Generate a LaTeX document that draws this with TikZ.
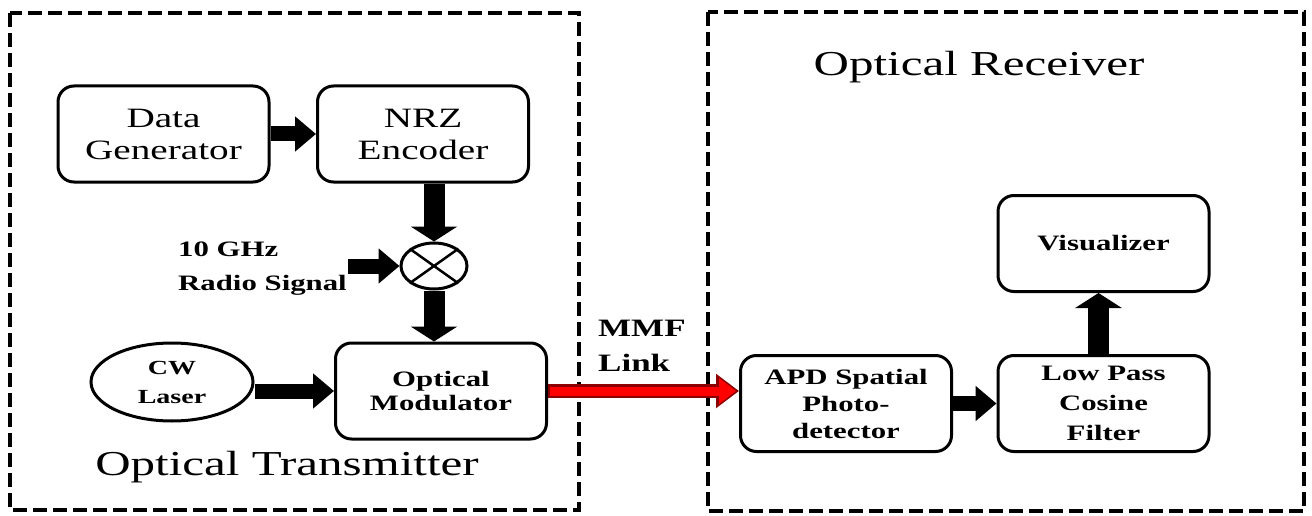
\documentclass[tikz,border=0pt]{standalone}
\usepackage{fontspec}
\setmainfont[FakeStretch=1.4]{Liberation Serif}
\usetikzlibrary{arrows.meta,shapes.geometric}
\tikzset{
  blk/.style={draw, line width=3pt, rounded corners=16pt, align=center, inner sep=0pt,
    minimum width=211pt, minimum height=96pt},
  regtxt/.style={font=\fontsize{28}{32}\selectfont},
  boldtxt/.style={font=\bfseries\fontsize{22}{27}\selectfont},
  group/.style={draw, line width=3.5pt, dash pattern=on 14pt off 6pt},
  harrow/.style={line width=15pt, -{Triangle[length=21pt,width=34pt]}},
  varrow/.style={line width=21pt, -{Triangle[length=15pt,width=46pt]}},
}
\begin{document}
\begin{tikzpicture}[x=1pt,y=-1pt]
\useasboundingbox (0,0) rectangle (1312,516);
% group boxes
\draw[group] (10,13) rectangle (579,510);
\draw[group] (708,12) rectangle (1304,511);
\node[regtxt, font=\fontsize{35}{40}\selectfont] (txlabel) at (287,467) {Optical Transmitter};
\node[regtxt, font=\fontsize{35}{40}\selectfont] (rxlabel) at (979,67) {Optical Receiver};
% transmitter
\node[blk, regtxt] (dg) at (163.5,134) {Data\\Generator};
\node[blk, regtxt] (nrz) at (423,134) {NRZ\\Encoder};
\node[draw, ellipse, line width=3pt, minimum width=66pt, minimum height=46pt, inner sep=0pt] (mix) at (434,266) {};
\draw[line width=2.5pt] (mix.north west) -- (mix.south east);
\draw[line width=2.5pt] (mix.north east) -- (mix.south west);
\node[blk, boldtxt, font=\bfseries\fontsize{22}{24}\selectfont] (mod) at (441,391) {Optical\\Modulator};
\node[draw, ellipse, line width=3pt, minimum width=162pt, minimum height=78pt, inner sep=0pt,
  boldtxt, font=\bfseries\fontsize{20}{29}\selectfont, align=center] (cw) at (172,382) {CW\\Laser};
\node[boldtxt, align=left, anchor=north west, inner sep=0pt, font=\bfseries\fontsize{22}{34}\selectfont] (radio) at (178,242) {10 GHz\\Radio Signal};
\coordinate (radioin) at (348,266);
\node[boldtxt, align=left, anchor=north west, inner sep=0pt, font=\bfseries\fontsize{25}{35}\selectfont] (mmf) at (598,320) {MMF\\Link};
% receiver
\node[blk, boldtxt] (apd) at (846,403.5) {APD Spatial\\Photo-\\detector};
\node[blk, boldtxt, font=\bfseries\fontsize{22}{30}\selectfont] (lpf) at (1103.5,403.5) {Low Pass\\Cosine\\Filter};
\node[blk, boldtxt] (vis) at (1103.5,243.5) {Visualizer};
% connectors
\draw[harrow] (dg.east) -- (nrz.west);
\draw[varrow] (nrz.south -| mix.north) -- (mix.north);
\draw[harrow] (radioin) -- (mix.west);
\draw[varrow] (mix.south) -- (mix.south |- mod.north);
\draw[harrow] ([yshift=-9pt]cw.east) -- (mod.west);
\draw[line width=14pt, red!55!black, -{Triangle[length=23pt,width=33pt]}] (mod.east) -- (apd.west |- mod.east);
\draw[line width=9pt, red, -{Triangle[length=17pt,width=25pt]}] ([xshift=1.5pt]mod.east) -- ([xshift=-3pt]apd.west |- mod.east);
\draw[harrow] (apd.east) -- (lpf.west);
\draw[varrow] ([xshift=-5pt]lpf.north) -- ([xshift=-5pt]vis.south);
\end{tikzpicture}
\end{document}
